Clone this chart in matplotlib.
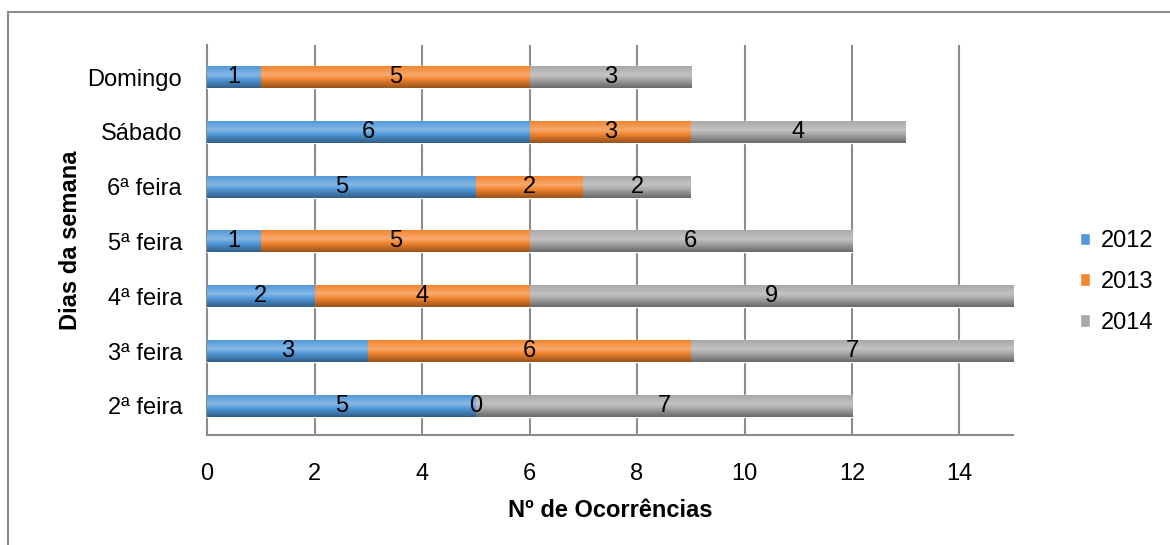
import numpy as np
import matplotlib
matplotlib.use("Agg")
import matplotlib.pyplot as plt
from matplotlib.lines import Line2D
from matplotlib.colors import to_rgb

plt.rcParams['font.family'] = ['Liberation Sans', 'DejaVu Sans']

# dados
dias = ["2ª feira", "3ª feira", "4ª feira", "5ª feira", "6ª feira", "Sábado", "Domingo"]
anos = ["2012", "2013", "2014"]
v2012 = [5, 3, 2, 1, 5, 6, 1]
v2013 = [0, 6, 4, 5, 2, 3, 5]
v2014 = [7, 7, 9, 6, 2, 4, 3]
cores = ["#5199DA", "#F3852F", "#A9A9A9"]
xmax = 15


def gradiente(cor):
    # sombreado vertical tipo Excel: escuro em baixo, claro no topo
    c = np.array(to_rgb(cor))
    w = np.ones(3)
    stops = [c * 0.62, c * 0.8, c, c * 0.7 + w * 0.3, c * 0.85 + w * 0.15, c]
    t = np.linspace(0, 1, 64)
    pos = np.linspace(0, 1, len(stops))
    arr = np.stack([np.interp(t, pos, [s[i] for s in stops]) for i in range(3)], axis=-1)
    return arr[:, None, :]


fig = plt.figure(figsize=(11.7, 5.45), dpi=100)
ax = fig.add_axes([0.177, 0.202, 0.689, 0.715])

y = np.arange(len(dias))
left = np.zeros(len(dias))
for serie, nome, cor in zip([v2012, v2013, v2014], anos, cores):
    bars = ax.barh(y, serie, left=left, height=0.40, color=cor,
                   edgecolor="white", linewidth=1.0, label=nome, zorder=3)
    for p, v in zip(bars, serie):
        x0, y0 = p.get_x(), p.get_y()
        x1 = min(x0 + p.get_width(), xmax)   # o Excel corta a barra no limite do eixo
        if p.get_width() > 0:
            im = ax.imshow(gradiente(cor), extent=[x0, x1, y0, y0 + p.get_height()],
                           origin="lower", aspect="auto", interpolation="bilinear", zorder=3.5)
            im.set_clip_path(p)
        ax.text((x0 + x1) / 2, y0 + p.get_height() / 2, str(v), ha="center", va="center",
                fontsize=17, color="black", zorder=5)
    left = left + np.array(serie)

ax.set_xlim(0, xmax)
ax.set_ylim(-0.53, 6.58)
ax.set_xticks(range(0, 15, 2))
ax.set_yticks(y)
ax.set_yticklabels(dias)
ax.tick_params(axis="both", length=0, labelsize=17, pad=18)
ax.tick_params(axis="x", pad=20)

# grelha vertical
for gx in range(2, 15, 2):
    ax.axvline(gx, color="#8C8C8C", linewidth=1.5, zorder=1)

for s in ["top", "right"]:
    ax.spines[s].set_visible(False)
ax.spines["left"].set_color("#8C8C8C")
ax.spines["bottom"].set_color("#8C8C8C")
ax.spines["left"].set_linewidth(1.5)
ax.spines["bottom"].set_linewidth(1.5)

ax.set_xlabel("Nº de Ocorrências", fontsize=17, fontweight="bold", labelpad=10)
ax.set_ylabel("Dias da semana", fontsize=17, fontweight="bold", labelpad=4)

leg = ax.legend(loc="center left", bbox_to_anchor=(1.056, 0.392), frameon=False,
                fontsize=17, handlelength=0.45, handleheight=0.45,
                labelspacing=0.8, handletextpad=0.45)

# moldura do gráfico (só topo e esquerda visíveis)
fig.add_artist(Line2D([8 / 1170, 8 / 1170], [0, 1 - 12 / 545], color="#8C8C8C", linewidth=1.5))
fig.add_artist(Line2D([8 / 1170, 1], [1 - 12 / 545, 1 - 12 / 545], color="#8C8C8C", linewidth=1.5))

fig.savefig("out.png", dpi=100)
